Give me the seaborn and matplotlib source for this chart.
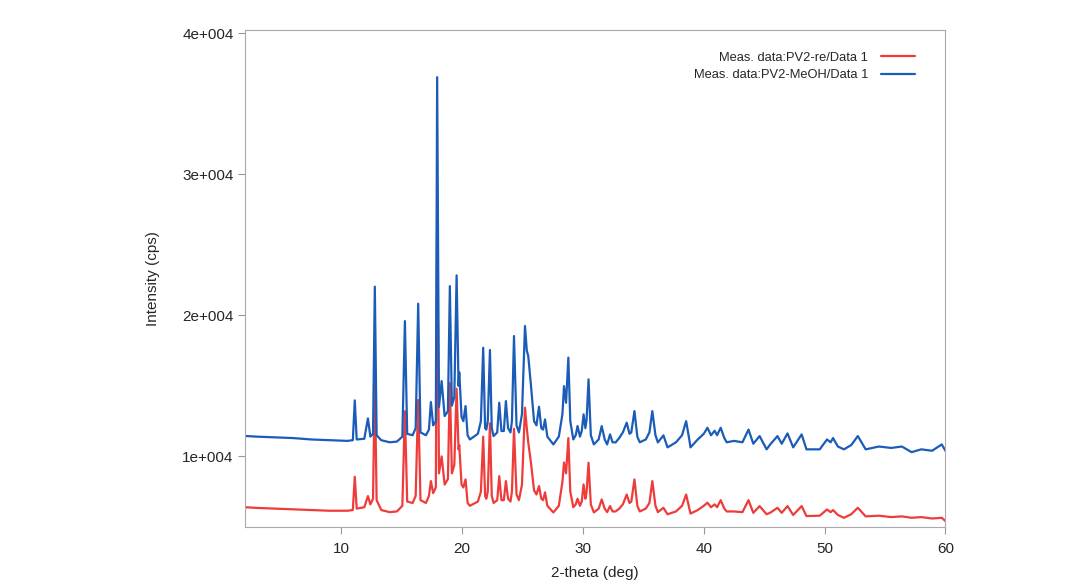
import pandas as pd
import numpy as np
import seaborn as sns
import matplotlib.pyplot as plt

# traced vertices of the two XRD patterns (2-theta, cps)
theta_meoh = [2.0, 3.0, 4.5, 6.0, 7.5, 9.0, 10.5, 10.95, 11.11, 11.27, 11.9, 12.2, 12.4, 12.62, 12.77, 12.92,
              13.3, 14.0, 14.6, 15.05, 15.26, 15.45, 15.9, 16.15, 16.36, 16.55, 17.0, 17.25, 17.41, 17.6, 17.82,
              17.93, 18.08, 18.3, 18.55, 18.82, 18.98, 19.15, 19.35, 19.54, 19.7, 19.76, 19.95, 20.1, 20.28,
              20.45, 20.64, 21.3, 21.55, 21.74, 21.9, 22.0, 22.12, 22.3, 22.45, 22.6, 22.9, 23.07, 23.25, 23.45,
              23.62, 23.8, 24.0, 24.12, 24.29, 24.5, 24.7, 24.95, 25.2, 25.35, 25.47, 25.7, 25.95, 26.15, 26.36,
              26.55, 26.7, 26.86, 27.05, 27.55, 28.0, 28.3, 28.43, 28.6, 28.79, 28.95, 29.2, 29.4, 29.55, 29.75,
              29.9, 30.05, 30.2, 30.3, 30.46, 30.65, 30.9, 31.3, 31.55, 31.8, 32.0, 32.24, 32.45, 32.7, 33.0,
              33.3, 33.62, 33.85, 34.0, 34.26, 34.5, 34.7, 35.2, 35.5, 35.74, 36.0, 36.2, 36.66, 37.0, 37.7,
              38.2, 38.54, 38.8, 38.9, 39.5, 40.0, 40.3, 40.6, 40.9, 41.1, 41.4, 41.7, 41.9, 42.5, 43.2, 43.7,
              44.1, 44.62, 45.2, 45.5, 46.1, 46.45, 46.93, 47.4, 48.1, 48.5, 49.6, 50.2, 50.5, 50.7, 51.1, 51.6,
              52.2, 52.75, 53.4, 54.5, 55.5, 56.4, 57.2, 58.0, 58.9, 59.7, 60.0]
cps_meoh = [11450, 11400, 11350, 11300, 11200, 11150, 11100, 11150, 13970, 11200, 11250, 12690, 11400, 11600, 22030, 11500,
            11150, 11000, 11050, 11400, 19590, 11600, 11500, 12000, 20820, 11700, 11500, 11900, 13850, 12200, 12500,
            36870, 13500, 15340, 12860, 13200, 22070, 13600, 14200, 22830, 15000, 15950, 12800, 12500, 13570,
            11500, 11200, 11600, 12500, 17700, 12000, 11900, 12500, 17540, 12000, 11440, 11700, 13800, 11800, 11800,
            13920, 12000, 11700, 12500, 18530, 12200, 11700, 13000, 19240, 17500, 17110, 14980, 12500, 12200, 13520,
            12000, 11900, 12620, 11400, 10850, 11400, 13000, 14980, 13800, 17000, 12500, 11200, 11500, 12150, 11400,
            11800, 12980, 12000, 12600, 15460, 11500, 10850, 11200, 12150, 11200, 10850, 11560, 11000, 10990, 11300,
            11700, 12390, 11600, 11700, 13210, 11400, 11000, 11200, 11700, 13210, 11500, 10990, 11490, 10640, 11000,
            11500, 12500, 11200, 10640, 11200, 11600, 12030, 11500, 11820, 11500, 12030, 11300, 11000, 11100, 11000, 11900,
            10900, 11440, 10500, 10850, 11440, 10900, 11630, 10640, 11560, 10500, 10500, 11200, 11000, 11300, 10700, 10500,
            10800, 11440, 10500, 10700, 10600, 10700, 10300, 10500, 10400, 10850, 10400]

theta_re = theta_meoh
cps_re = [6400, 6350, 6300, 6250, 6200, 6150, 6150, 6200, 8560, 6300, 6400, 7190, 6600, 7000, 15500, 6900,
          6200, 6050, 6100, 6500, 13200, 6800, 6700, 7200, 14000, 6900, 6700, 7200, 8250, 7400, 7800,
          27000, 8800, 10000, 8000, 8400, 15200, 8800, 9400, 14800, 10500, 10800, 8000, 7800, 8370,
          6700, 6500, 6800, 7500, 11400, 7200, 7000, 7500, 12340, 7200, 6700, 6900, 8600, 6900, 6900,
          8250, 7000, 6800, 7500, 11960, 7300, 6900, 8000, 13450, 12000, 11000, 9500, 7600, 7300, 7900,
          7000, 6900, 7450, 6500, 6030, 6500, 8200, 9570, 8800, 11300, 7500, 6400, 6600, 7000, 6500,
          6800, 8015, 7000, 7500, 9550, 6600, 6030, 6300, 6950, 6300, 6050, 6480, 6100, 6100, 6300,
          6600, 7300, 6700, 6800, 8370, 6500, 6100, 6300, 6700, 8250, 6500, 6050, 6360, 5900, 6100,
          6500, 7300, 6300, 5950, 6200, 6500, 6720, 6400, 6600, 6400, 6900, 6300, 6100, 6100, 6050, 6900,
          6000, 6480, 5900, 6010, 6360, 6000, 6480, 5850, 6480, 5770, 5800, 6240, 6050, 6200, 5850, 5650,
          5900, 6360, 5750, 5800, 5700, 5750, 5650, 5700, 5600, 5650, 5420]

series_names = ['Meas. data:PV2-re/Data 1', 'Meas. data:PV2-MeOH/Data 1']
series_colors = ['#ee3c3a', '#1b5cb9']
x_ticks = [10, 20, 30, 40, 50, 60]
y_ticks = [10000, 20000, 30000, 40000]
y_tick_labels = ['1e+004', '2e+004', '3e+004', '4e+004']

df = pd.concat([
    pd.DataFrame({'theta': theta_re, 'cps': cps_re, 'series': series_names[0]}),
    pd.DataFrame({'theta': theta_meoh, 'cps': cps_meoh, 'series': series_names[1]}),
])

sns.set_style('white')
plt.rcParams['font.family'] = ['Liberation Sans', 'DejaVu Sans']

fig = plt.figure(figsize=(10.78, 5.81), dpi=100)
ax = fig.add_axes([0.227, 0.093, 0.65, 0.855])

sns.lineplot(data=df, x='theta', y='cps', hue='series', hue_order=series_names,
             palette=series_colors, estimator=None, sort=False, linewidth=1.6, ax=ax)

ax.set_xlim(2, 60)
ax.set_ylim(5000, 40200)
ax.set_xticks(x_ticks)
ax.set_yticks(y_ticks)
ax.set_yticklabels(y_tick_labels)
ax.tick_params(axis='both', bottom=True, left=True, length=5, width=0.8, color='#999999',
               labelsize=11, direction='out', pad=3)
ax.tick_params(axis='x', pad=6)
ax.set_xlabel('2-theta (deg)', fontsize=11, labelpad=7)
ax.set_ylabel('Intensity (cps)', fontsize=11, labelpad=16)
for s in ax.spines.values():
    s.set_color('#aaaaaa')
    s.set_linewidth(0.8)

handles, labels = ax.get_legend_handles_labels()
ax.legend(handles, labels, loc='upper right', bbox_to_anchor=(0.973, 0.98), frameon=False,
          markerfirst=False, fontsize=9.3, handlelength=2.6, handletextpad=1.0, labelspacing=0.4)

fig.savefig('out.png', dpi=100)
